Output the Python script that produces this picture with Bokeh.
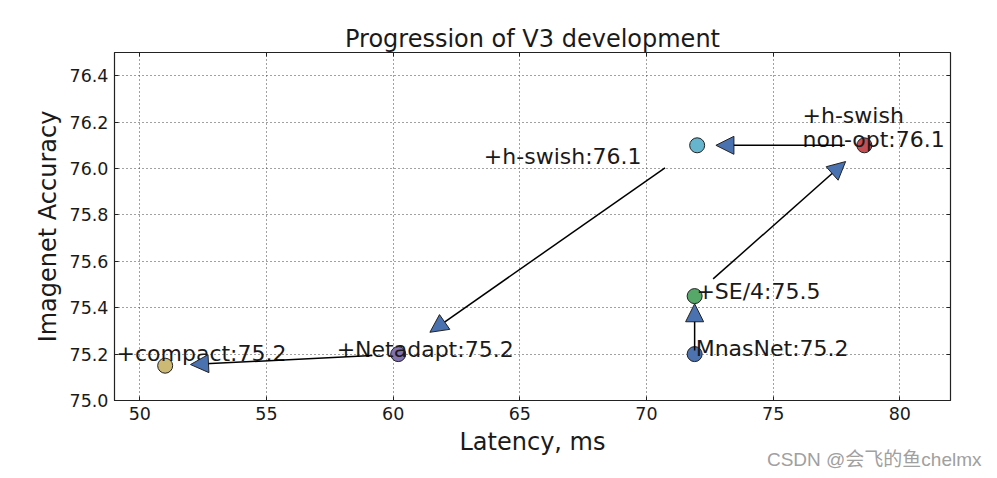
from bokeh.plotting import figure
from bokeh.models import (Range1d, FixedTicker, PrintfTickFormatter, LinearAxis,
                          Arrow, NormalHead, Title, ColumnDataSource)
from bokeh.embed import file_html
from bokeh.resources import INLINE
from bokeh.core.properties import value

# ---------------- data ----------------
names = ["MnasNet", "+SE/4", "+h-swish non-opt", "+h-swish", "+Netadapt", "+compact"]
latency = [71.9, 71.9, 78.6, 72.0, 60.2, 51.0]
accuracy = [75.2, 75.45, 76.1, 76.1, 75.2, 75.15]
colors = ["#4c72b0", "#55a868", "#c44e52", "#64b5cd", "#8172b2", "#ccb974"]

label_lines = ["MnasNet:75.2", "+SE/4:75.5", "+h-swish", "non-opt:76.1",
               "+h-swish:76.1", "+Netadapt:75.2", "+compact:75.2"]
label_x = [71.94, 71.97, 76.16, 76.16, 63.58, 57.77, 49.08]
label_y = [75.222, 75.471, 76.228, 76.123, 76.051, 75.218, 75.201]

arrow_x0 = [71.9, 72.63, 77.83, 70.73, 59.18]
arrow_y0 = [75.215, 75.524, 76.1, 76.003, 75.194]
arrow_x1 = [71.9, 77.86, 72.74, 61.45, 52.0]
arrow_y1 = [75.417, 76.03, 76.1, 75.294, 75.155]

x_ticks = [50, 55, 60, 65, 70, 75, 80]
y_ticks = [75.0, 75.2, 75.4, 75.6, 75.8, 76.0, 76.2, 76.4]

FONT = "DejaVu Sans"

p = figure(width=989, height=470, output_backend="svg", toolbar_location=None,
           x_range=Range1d(49, 82), y_range=Range1d(75.0, 76.5),
           min_border_left=114, min_border_right=39, min_border_top=52,
           min_border_bottom=70, background_fill_color="white",
           border_fill_color="white")

p.title.text = "Progression of V3 development"
p.title.align = "center"
p.title.text_font = FONT
p.title.text_font_size = "24px"
p.title.text_font_style = "normal"
p.title.text_color = "#1a1a1a"
p.title.standoff = 0

p.outline_line_color = "#222222"
p.outline_line_width = 1.2

xa = p.below[0]
ya = p.left[0]
xa.ticker = FixedTicker(ticks=x_ticks)
ya.ticker = FixedTicker(ticks=y_ticks)
ya.formatter = PrintfTickFormatter(format="%.1f")
for ax in (xa, ya):
    ax.major_tick_in = 4
    ax.major_tick_out = 0
    ax.minor_tick_line_color = None
    ax.major_tick_line_color = "#222222"
    ax.axis_line_color = "#222222"
    ax.major_label_text_font = FONT
    ax.major_label_text_font_size = "17.5px"
    ax.major_label_text_color = "#1a1a1a"
    ax.axis_label_text_font = FONT
    ax.axis_label_text_font_size = "24px"
    ax.axis_label_text_font_style = "normal"
    ax.axis_label_text_color = "#1a1a1a"
xa.axis_label = "Latency, ms"
ya.axis_label = "Imagenet Accuracy"
xa.major_label_standoff = 6
ya.major_label_standoff = 6
xa.axis_label_standoff = 5
ya.axis_label_standoff = 5

for loc, tk in (("above", x_ticks), ("right", y_ticks)):
    ax = LinearAxis(ticker=FixedTicker(ticks=tk), axis_line_color=None,
                    major_tick_in=4, major_tick_out=0, minor_tick_line_color=None,
                    major_tick_line_color="#222222", major_label_standoff=0,
                    major_label_text_font_size="0px", major_label_text_color=None)
    p.add_layout(ax, loc)

for g in (p.xgrid[0], p.ygrid[0]):
    g.grid_line_color = "#444444"
    g.grid_line_dash = "1 3"
    g.grid_line_width = 1
p.xgrid[0].ticker = FixedTicker(ticks=x_ticks)
p.ygrid[0].ticker = FixedTicker(ticks=y_ticks)

pts = ColumnDataSource(dict(x=latency, y=accuracy, c=colors, n=names))
p.scatter("x", "y", source=pts, size=15, fill_color="c", line_color="#222222",
          line_width=1)

arr = ColumnDataSource(dict(x0=arrow_x0, y0=arrow_y0, x1=arrow_x1, y1=arrow_y1))
p.add_layout(Arrow(source=arr, x_start="x0", y_start="y0", x_end="x1", y_end="y1",
                   line_color="black", line_width=1.5,
                   end=NormalHead(size=18, fill_color="#4a72b0",
                                  line_color="#222222", line_width=1)))

txt = ColumnDataSource(dict(x=label_x, y=label_y, t=label_lines))
tr = p.text("x", "y", text="t", source=txt, text_font=value(FONT),
            text_font_size="22px", text_color="#1a1a1a",
            text_baseline="alphabetic", text_align="left")
tr.level = "annotation"

wm = Title(text="CSDN @会飞的鱼chelmx", align="right", vertical_align="top",
           offset=-31, standoff=-20, text_font="Liberation Sans, Noto Sans CJK SC",
           text_font_size="19px", text_font_style="normal", text_color="#a0a0a0")
p.add_layout(wm, "below")

open("out.html", "w").write(file_html(p, INLINE))
